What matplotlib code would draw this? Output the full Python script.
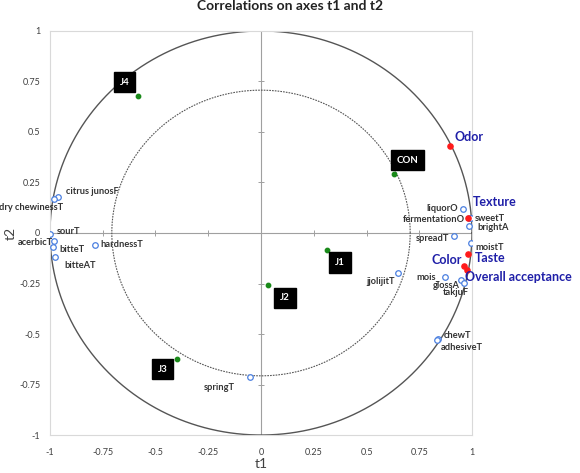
import matplotlib.pyplot as plt
import numpy as np

plt.rcParams['font.family'] = ['Lato', 'DejaVu Sans']

# observations (green dots with black label boxes)
obs_names = ['J1', 'J2', 'J3', 'J4', 'CON']
obs_x = [0.314, 0.033, -0.40, -0.584, 0.632]
obs_y = [-0.085, -0.257, -0.624, 0.678, 0.292]
obs_lbl_dx = [13, 17, -14, -13, 13]
obs_lbl_dy = [-12, -13, -10, 14, 14]

# supplementary variables (red dots, blue labels)
sup_names = ['Odor', 'Texture', 'Taste', 'Color', 'Overall acceptance']
sup_x = [0.898, 0.983, 0.983, 0.960, 0.978]
sup_y = [0.431, 0.074, -0.104, -0.163, -0.183]

# active variables (open blue circles)
var_names = ['liquorO', 'fermentationO', 'sweetT', 'brightA', 'spreadT', 'moistT',
             'mois_', 'glossA', 'takjuF', 'jjolijitT', 'chewT', 'adhesiveT',
             'springT', 'hardnessT', 'citrus junosF', 'dry chewinessT', 'sourT',
             'acerbicT', 'bitteT', 'bitteAT']
var_x = [0.955, 0.985, 0.993, 0.988, 0.917, 0.993,
         0.874, 0.950, 0.963, 0.650, 0.841, 0.836,
         -0.052, -0.789, -0.964, -0.983, -0.998,
         -0.983, -0.988, -0.974]
var_y = [0.119, 0.074, 0.074, 0.035, -0.015, -0.050,
         -0.218, -0.233, -0.248, -0.198, -0.525, -0.530,
         -0.713, -0.059, 0.178, 0.168, -0.005,
         -0.040, -0.069, -0.119]

ticks = [-1, -0.75, -0.5, -0.25, 0, 0.25, 0.5, 0.75, 1]
tick_labels = ['-1', '-0.75', '-0.5', '-0.25', '0', '0.25', '0.5', '0.75', '1']

fig = plt.figure(figsize=(5.8, 4.73), dpi=100)
ax = fig.add_axes([0.0862, 0.0803, 0.7276, 0.8542])
ax.set_xlim(-1, 1)
ax.set_ylim(-1, 1)

for s in ax.spines.values():
    s.set_color('#d9d9d9')
    s.set_linewidth(0.8)

ax.set_xticks(ticks)
ax.set_xticklabels(tick_labels)
ax.set_yticks(ticks)
ax.set_yticklabels(tick_labels)
ax.tick_params(length=0, labelsize=6.5, colors='#404040')
ax.tick_params(axis='x', pad=9)
ax.tick_params(axis='y', pad=7)

ax.set_xlabel('t1', fontsize=10, color='#404040', labelpad=1)
ax.set_ylabel('t2', fontsize=10, color='#404040')
ax.yaxis.set_label_coords(-0.078, 0.5)

# center axes with small tick marks
ax.axhline(0, color='#a0a0a0', lw=0.8, zorder=1)
ax.axvline(0, color='#a0a0a0', lw=0.8, zorder=1)
inner = [t for t in ticks if t not in (-1, 0, 1)]
ax.plot(inner, [0] * len(inner), linestyle='none', marker='|', ms=5, mew=0.7, color='#a0a0a0', zorder=1)
ax.plot([0] * len(inner), inner, linestyle='none', marker='_', ms=5, mew=0.7, color='#a0a0a0', zorder=1)

# correlation circles
theta = np.linspace(0, 2 * np.pi, 400)
ax.plot(np.cos(theta), np.sin(theta), color='#555555', lw=1.0, zorder=2)
r = np.sqrt(0.5)
ax.plot(r * np.cos(theta), r * np.sin(theta), color='#555555', lw=0.8, ls=(0, (1.5, 1)), zorder=2)

# active variables
ax.scatter(var_x, var_y, s=16, facecolors='white', edgecolors='#4a7fe0', linewidths=0.9, zorder=4)

# label offsets in pixels: dx, dy, horizontal alignment
var_lbl = {
    'liquorO': (-5, 0, 'right'),
    'fermentationO': (-4, -1, 'right'),
    'sweetT': (4, 0, 'left'),
    'brightA': (8, -2, 'left'),
    'spreadT': (-5, -2, 'right'),
    'moistT': (5, -4, 'left'),
    'mois_': (-5, 0, 'right'),
    'glossA': (-2, -5, 'right'),
    'takjuF': (5, -9, 'right'),
    'jjolijitT': (-3, -9, 'right'),
    'chewT': (5, 4, 'left'),
    'adhesiveT': (3, -7, 'left'),
    'springT': (-31, -10, 'center'),
    'hardnessT': (6, 0, 'left'),
    'citrus junosF': (8, 6, 'left'),
    'dry chewinessT': (10, -8, 'right'),
    'sourT': (6, 3, 'left'),
    'acerbicT': (-1, -1, 'right'),
    'bitteT': (7, -3, 'left'),
    'bitteAT': (9, -8, 'left'),
}
for name, x, y in zip(var_names, var_x, var_y):
    dx, dy, ha = var_lbl[name]
    ax.annotate(name, (x, y), xytext=(dx, dy), textcoords='offset pixels',
                ha=ha, va='center', fontsize=6.7, fontweight='bold', color='#333333', zorder=5,
                annotation_clip=False)

# supplementary variables
ax.scatter(sup_x, sup_y, s=14, color='#ff1a1a', zorder=6)
sup_lbl = {
    'Odor': (4, 9, 'left'),
    'Texture': (4, 16, 'left'),
    'Taste': (6, -4, 'left'),
    'Color': (-2, 6, 'right'),
    'Overall acceptance': (-2, -7, 'left'),
}
for name, x, y in zip(sup_names, sup_x, sup_y):
    dx, dy, ha = sup_lbl[name]
    ax.annotate(name, (x, y), xytext=(dx, dy), textcoords='offset pixels',
                ha=ha, va='center', fontsize=9, fontweight='bold', color='#1f1fa8', zorder=7,
                annotation_clip=False)

# observations
ax.scatter(obs_x, obs_y, s=10, color='#1a8a1a', zorder=6)
for name, x, y, dx, dy in zip(obs_names, obs_x, obs_y, obs_lbl_dx, obs_lbl_dy):
    ax.annotate(name, (x, y), xytext=(dx, dy), textcoords='offset pixels',
                ha='center', va='center', fontsize=7, fontweight='bold', color='white', zorder=8,
                bbox=dict(boxstyle='square,pad=0.6', fc='black', ec='black'))

fig.text(0.5, 0.988, 'Correlations on axes t1 and t2', ha='center', va='center',
         fontsize=10, fontweight='bold', color='#222222')

fig.savefig('out.png', dpi=100)
